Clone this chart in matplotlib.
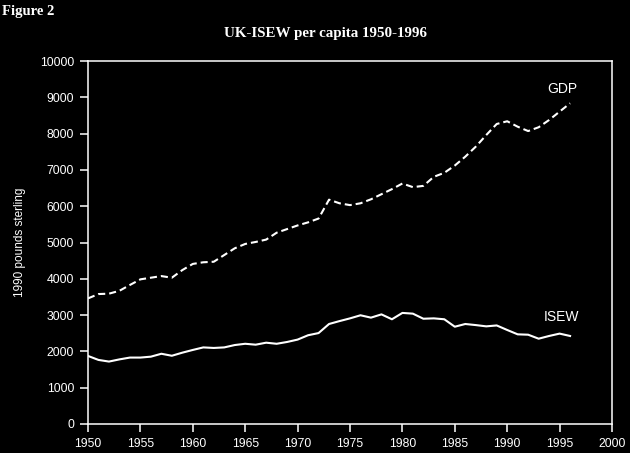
import numpy as np
import matplotlib
matplotlib.use("Agg")
import matplotlib.pyplot as plt

# UK-ISEW per capita, 1990 pounds sterling
years = np.arange(1950, 1997)
gdp = [3460, 3580, 3590, 3670, 3830, 3985, 4030, 4075, 4030, 4240,
       4410, 4455, 4470, 4655, 4840, 4960, 5015, 5080, 5270, 5370,
       5470, 5555, 5660, 6180, 6080, 6030, 6080, 6190, 6330, 6470,
       6625, 6525, 6560, 6810, 6920, 7120, 7365, 7640, 7960, 8265,
       8340, 8190, 8070, 8175, 8375, 8605, 8835]
isew = [1875, 1765, 1720, 1780, 1830, 1830, 1855, 1935, 1880, 1965,
        2040, 2110, 2095, 2110, 2175, 2210, 2185, 2240, 2210, 2260,
        2325, 2445, 2505, 2755, 2835, 2910, 2995, 2930, 3020, 2885,
        3060, 3040, 2900, 2910, 2885, 2680, 2755, 2725, 2690, 2715,
        2590, 2470, 2460, 2350, 2425, 2490, 2425]

xticks = np.arange(1950, 2001, 5)
yticks = np.arange(0, 10001, 1000)

fg = "white"
bg = "black"

fig = plt.figure(figsize=(6.3, 4.53), dpi=100, facecolor=bg)
ax = fig.add_axes([88 / 630, 29 / 453, 524 / 630, 363 / 453], facecolor=bg)

ax.plot(years, gdp, color=fg, lw=1.5, dashes=(3.4, 1.9))
ax.plot(years, isew, color=fg, lw=1.5)

ax.text(1995.3, 9230, "GDP", color=fg, fontsize=10, family="Liberation Sans",
        ha="center", va="center")
ax.text(1995.2, 2950, "ISEW", color=fg, fontsize=10, family="Liberation Sans",
        ha="center", va="center")

ax.set_xlim(1950, 2000)
ax.set_ylim(0, 10000)
ax.set_xticks(xticks)
ax.set_yticks(yticks)
ax.tick_params(colors=fg, direction="out", length=6, width=1.1, labelsize=8.8,
               pad=4)
for lab in ax.get_xticklabels() + ax.get_yticklabels():
    lab.set_family("Liberation Sans")
for sp in ax.spines.values():
    sp.set_color(fg)
    sp.set_linewidth(1.1)

ax.set_ylabel("1990 pounds sterling", color=fg, fontsize=8.5,
              family="Liberation Sans", labelpad=10)

fig.text(325 / 630, 1 - 33 / 453, "UK-ISEW per capita 1950-1996", color=fg,
         fontsize=10.8, family="Liberation Serif", weight="bold",
         ha="center", va="center")
fig.text(2 / 630, 1 - 11 / 453, "Figure 2", color=fg, fontsize=10.5,
         family="Liberation Serif", weight="bold", ha="left", va="center")

fig.savefig("out.png", dpi=100, facecolor=bg)
